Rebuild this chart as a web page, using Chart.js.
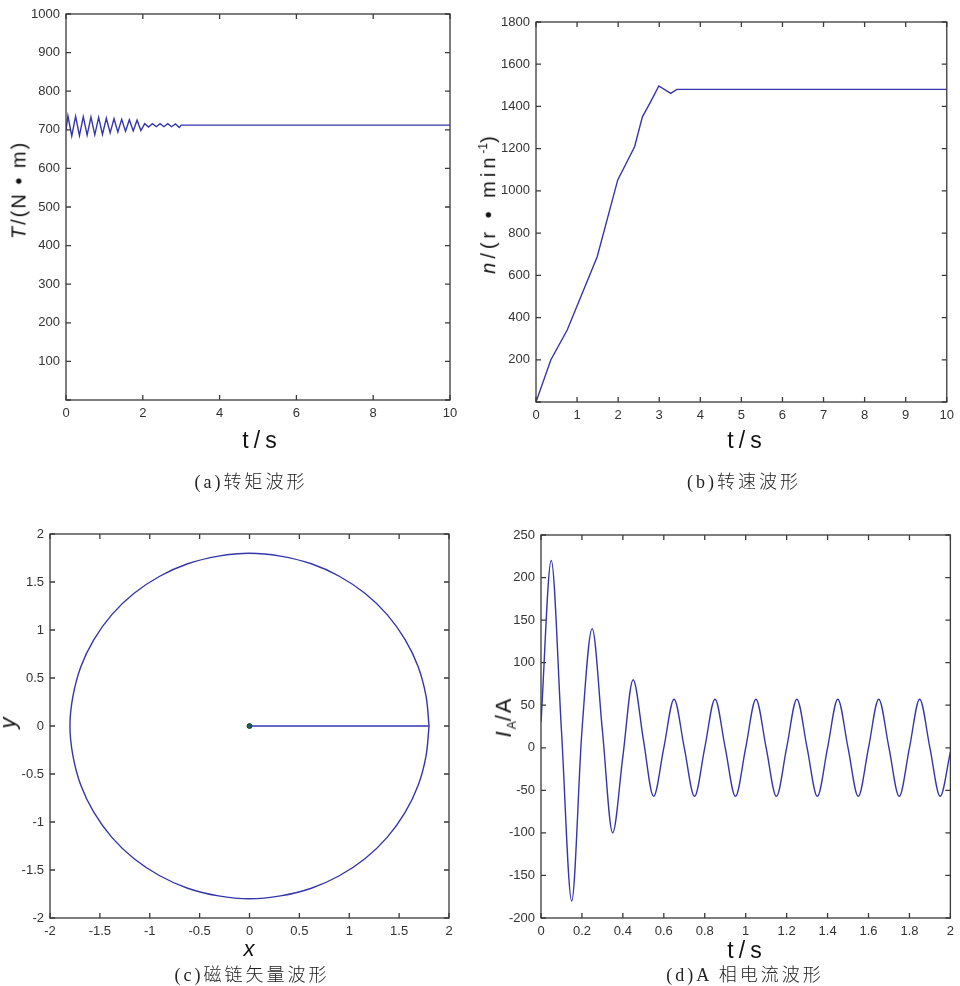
<!DOCTYPE html>
<html>
<head>
<meta charset="utf-8">
<script src="https://cdn.jsdelivr.net/npm/chart.js@4.4.1/dist/chart.umd.min.js"></script>
<style>
  body { margin: 0; background: #fff; }
  #page { position: relative; width: 960px; height: 986px; overflow: hidden; }
  .box { position: absolute; }
  .lbl { position: absolute; white-space: nowrap; color: #111; font-family: "Liberation Sans", Arial, sans-serif; transform: translate(-50%, -50%); }
  .rot { transform: translate(-50%, -50%) rotate(-90deg); }
  .cap { position: absolute; white-space: nowrap; color: #222; font-size: 18px; letter-spacing: 3px; transform: translate(-50%, -50%); font-family: "Liberation Serif", "Noto Sans CJK SC", serif; }
  .cap span { font-family: "Noto Sans CJK SC", sans-serif; font-weight: 300; }
</style>
</head>
<body>
<div id="page">
  <div class="box" style="left:0;top:0;width:470px;height:440px"><canvas id="torque"></canvas></div>
  <div class="box" style="left:470px;top:0;width:490px;height:440px"><canvas id="speed"></canvas></div>
  <div class="box" style="left:0;top:510px;width:470px;height:440px"><canvas id="flux"></canvas></div>
  <div class="box" style="left:470px;top:510px;width:490px;height:440px"><canvas id="current"></canvas></div>

  <div class="lbl rot" style="left:19px;top:190px;font-size:20px;letter-spacing:2px"><i>T</i>/(N • m)</div>
  <div class="lbl" style="left:262px;top:440px;font-size:23px;letter-spacing:5px">t/s</div>
  <div class="cap" style="left:251px;top:480px">(a)<span>转矩波形</span></div>

  <div class="lbl rot" style="left:488px;top:203px;font-size:20px;letter-spacing:4px"><i>n</i>/(r • min<sup style="font-size:12px;letter-spacing:0">-1</sup>)</div>
  <div class="lbl" style="left:747px;top:440px;font-size:23px;letter-spacing:5px">t/s</div>
  <div class="cap" style="left:744px;top:480px">(b)<span>转速波形</span></div>

  <div class="lbl rot" style="left:8px;top:723px;font-size:22px"><i>y</i></div>
  <div class="lbl" style="left:249px;top:949px;font-size:22px"><i>x</i></div>
  <div class="cap" style="left:252px;top:973px">(c)<span>磁链矢量波形</span></div>

  <div class="lbl rot" style="left:505px;top:717px;font-size:22px;letter-spacing:2px"><i>I</i><sub style="font-size:12px;letter-spacing:0">A</sub>/A</div>
  <div class="lbl" style="left:747px;top:950px;font-size:23px;letter-spacing:5px">t/s</div>
  <div class="cap" style="left:745px;top:973px">(d)A <span>相电流波形</span></div>
</div>
<script>
// (a) torque
const torqueT = [0, 0.05, 0.15, 0.25, 0.35, 0.45, 0.55, 0.65, 0.75, 0.85, 0.95,
  1.05, 1.15, 1.25, 1.35, 1.45, 1.55, 1.65, 1.75, 1.85, 1.95,
  2.05, 2.15, 2.25, 2.35, 2.45, 2.55, 2.65, 2.75, 2.85, 2.95, 3.0, 10];
const torqueVal = [700, 736, 684, 735, 685, 734, 686, 733, 687, 732, 688,
  730, 692, 729, 694, 727, 696, 726, 697, 725, 698,
  716, 707, 716, 708, 716, 708, 716, 708, 715, 706, 712, 712];

// (b) speed
const speedT = [0, 0.36, 0.76, 1.49, 1.99, 2.4, 2.59, 2.79, 2.99, 3.28, 3.43, 10];
const speedVal = [0, 199, 341, 688, 1052, 1209, 1351, 1422, 1497, 1462, 1481, 1481];

// (c) flux vector locus, read every 10 degrees around the trace
const fluxX = [1.80, 1.77, 1.69, 1.56, 1.38, 1.16, 0.90, 0.62, 0.31, 0, -0.31, -0.62, -0.90, -1.16, -1.38, -1.56, -1.69, -1.77,
  -1.80, -1.77, -1.69, -1.56, -1.38, -1.16, -0.90, -0.62, -0.31, 0, 0.31, 0.62, 0.90, 1.16, 1.38, 1.56, 1.69, 1.77, 1.80];
const fluxY = [0, 0.31, 0.62, 0.90, 1.16, 1.38, 1.56, 1.69, 1.77, 1.80, 1.77, 1.69, 1.56, 1.38, 1.16, 0.90, 0.62, 0.31,
  0, -0.31, -0.62, -0.90, -1.16, -1.38, -1.56, -1.69, -1.77, -1.80, -1.77, -1.69, -1.56, -1.38, -1.16, -0.90, -0.62, -0.31, 0];
const radiusX = [0, 1.80];
const radiusY = [0, 0];

// (d) phase A current
const currT = [0, 0.05, 0.1, 0.15, 0.2, 0.25, 0.3, 0.35, 0.4, 0.45, 0.5, 0.55, 0.6, 0.65, 0.7, 0.75, 0.8, 0.85, 0.9, 0.95,
  1.0, 1.05, 1.1, 1.15, 1.2, 1.25, 1.3, 1.35, 1.4, 1.45, 1.5, 1.55, 1.6, 1.65, 1.7, 1.75, 1.8, 1.85, 1.9, 1.95, 2.0];
const currVal = [30, 220, 20, -180, 20, 140, 20, -100, -10, 80, 10, -57, 0, 57, 0, -57, 0, 57, 0, -57,
  0, 57, 0, -57, 0, 57, 0, -57, 0, 57, 0, -57, 0, 57, 0, -57, 0, 57, 0, -57, -5];

const lineColor = '#3535ad';
const pts = (xs, ys) => xs.map((x, i) => ({x: x, y: ys[i]}));

const boxTicks = {
  id: 'boxTicks',
  afterDatasetsDraw(chart) {
    const {ctx, chartArea: a, scales} = chart;
    ctx.save();
    ctx.strokeStyle = '#3a3a3a';
    ctx.lineWidth = 1.3;
    ctx.strokeRect(a.left, a.top, a.right - a.left, a.bottom - a.top);
    ctx.beginPath();
    scales.x.ticks.forEach(t => {
      const px = scales.x.getPixelForValue(t.value);
      ctx.moveTo(px, a.bottom); ctx.lineTo(px, a.bottom - 5);
      ctx.moveTo(px, a.top); ctx.lineTo(px, a.top + 5);
    });
    scales.y.ticks.forEach(t => {
      const py = scales.y.getPixelForValue(t.value);
      ctx.moveTo(a.left, py); ctx.lineTo(a.left + 5, py);
      ctx.moveTo(a.right, py); ctx.lineTo(a.right - 5, py);
    });
    ctx.stroke();
    ctx.restore();
  }
};

function axis(min, max, step, size, hideZero, isY) {
  return {
    type: 'linear', min: min, max: max,
    grid: {display: false, drawTicks: false}, border: {display: false},
    afterFit: s => { if (isY) s.width = size; else s.height = size; },
    ticks: {
      stepSize: step, color: '#333', padding: 6, maxRotation: 0, autoSkip: false,
      font: {family: 'Liberation Sans', size: 13},
      callback: v => (hideZero && v === 0) ? '' : String(Math.round(v * 10) / 10)
    }
  };
}

function makeChart(id, datasets, xAx, yAx, pad) {
  return new Chart(document.getElementById(id), {
    type: 'scatter',
    data: {datasets: datasets},
    options: {
      responsive: true, maintainAspectRatio: false, animation: false,
      layout: {padding: pad},
      plugins: {legend: {display: false}, tooltip: {enabled: false}},
      scales: {x: xAx, y: yAx}
    },
    plugins: [boxTicks]
  });
}

const lineDs = (data, extra) => Object.assign({
  data: data, showLine: true, pointRadius: 0, borderColor: lineColor, borderWidth: 1.4, tension: 0
}, extra || {});

makeChart('torque', [lineDs(pts(torqueT, torqueVal))],
  axis(0, 10, 2, 40, false, false), axis(0, 1000, 100, 66, true, true),
  {top: 14, right: 20, left: 0, bottom: 0});

makeChart('speed', [lineDs(pts(speedT, speedVal))],
  axis(0, 10, 1, 38, false, false), axis(0, 1800, 200, 66, true, true),
  {top: 22, right: 9, left: 0, bottom: 0});

makeChart('flux', [
    lineDs(pts(fluxX, fluxY), {tension: 0.33}),
    lineDs(pts(radiusX, radiusY)),
    {data: [{x: 0, y: 0}], pointRadius: 2.5, pointBackgroundColor: '#1a6a3a', pointBorderColor: '#0d4a22', borderWidth: 1}
  ],
  axis(-2, 2, 0.5, 32, false, false), axis(-2, 2, 0.5, 50, false, true),
  {top: 24, right: 21, left: 0, bottom: 0});

makeChart('current', [lineDs(pts(currT, currVal), {cubicInterpolationMode: 'monotone'})],
  axis(0, 2, 0.2, 32, false, false), axis(-200, 250, 50, 71, false, true),
  {top: 25, right: 7, left: 0, bottom: 0});
</script>
</body>
</html>
